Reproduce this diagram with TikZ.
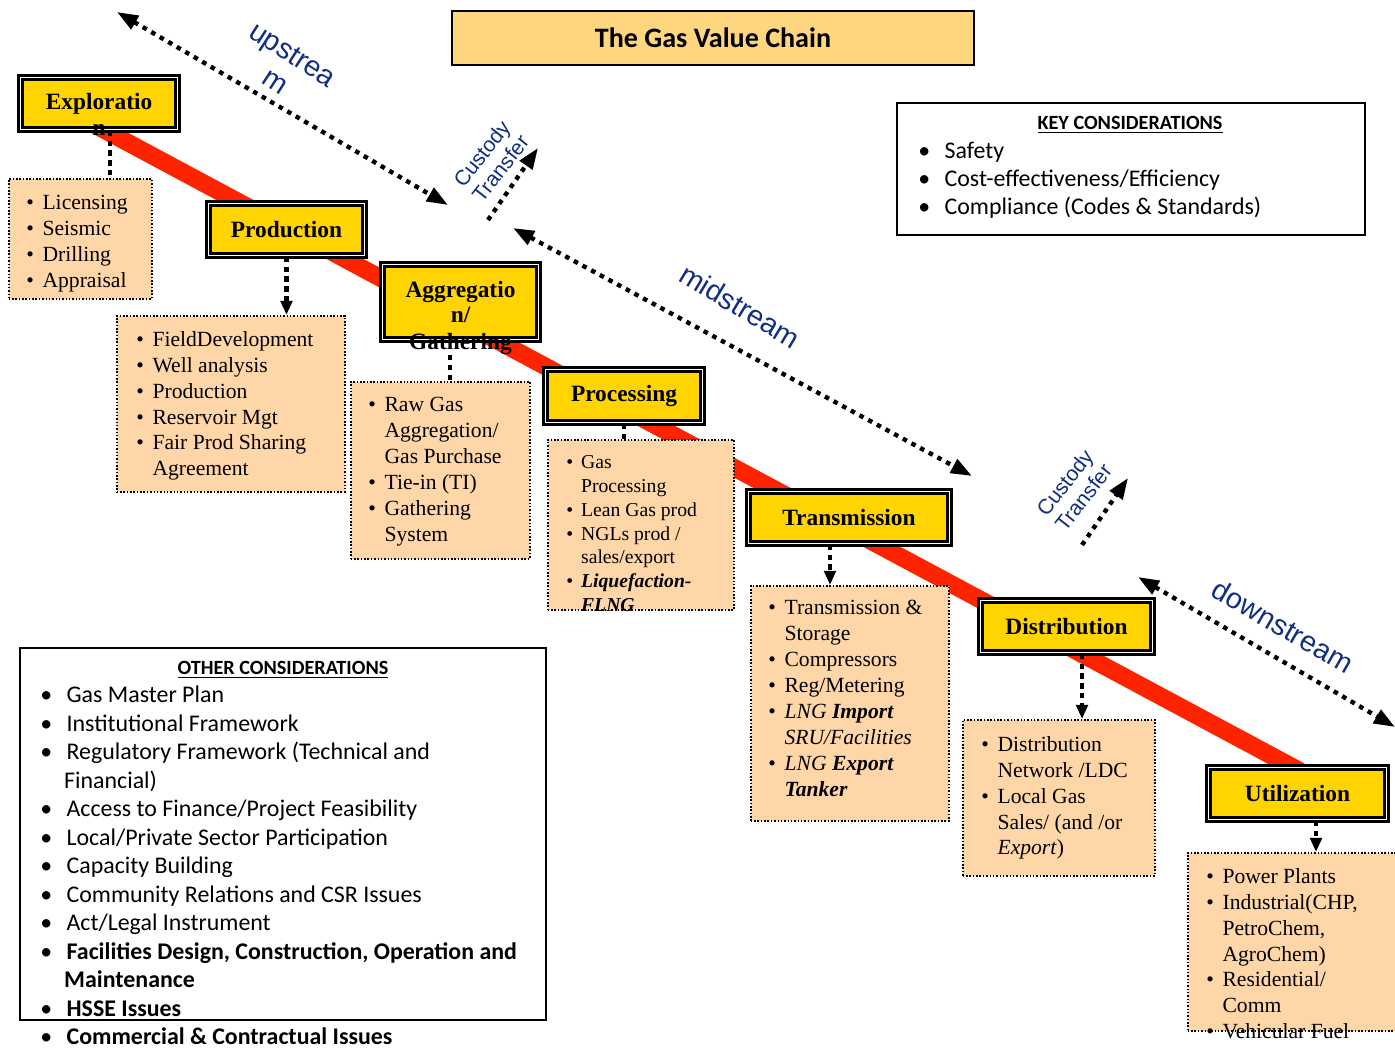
\documentclass[tikz,border=0pt]{standalone}
\usepackage{fontspec}
\setmainfont{Liberation Serif}
\newfontfamily\calibri{Carlito}
\newfontfamily\arial{Liberation Sans}
\usetikzlibrary{arrows.meta,positioning,calc}
\definecolor{stageyellow}{RGB}{255,212,0}
\definecolor{titleorange}{RGB}{255,214,128}
\definecolor{listpeach}{RGB}{255,214,168}
\definecolor{chainred}{RGB}{255,36,0}
\definecolor{streamblue}{RGB}{16,46,130}
\newcommand{\px}{0.02cm}
\newcommand{\bul}{\makebox[0.75em][l]{\textbullet}}
\newcommand{\ind}{\hspace*{0.75em}}
\newcommand{\cbul}{\makebox[1.1em][l]{\textbullet}}
\newcommand{\cind}{\hspace*{1.0em}}
\tikzset{
  stagebox/.style={draw=black,line width=1.4pt,double=white,double distance=0.9pt,
    fill=stageyellow,inner sep=0pt,align=center,
    font=\fontsize{13.3}{14.3}\selectfont\bfseries},
  spill/.style={inner sep=0pt,font=\fontsize{13.3}{14.3}\selectfont\bfseries},
  titlebox/.style={draw=black,line width=0.8pt,fill=titleorange,inner sep=0pt,
    font=\calibri\fontsize{16}{18}\selectfont\bfseries},
  listbox/.style={draw=black,densely dotted,line width=0.9pt,fill=listpeach,
    inner sep=0pt,anchor=north west},
  listtext/.style={anchor=north west,inner sep=0pt,align=left,
    font=\fontsize{12.3}{14.74}\selectfont},
  considerbox/.style={draw=black,line width=1.1pt,fill=white,inner sep=0pt,
    anchor=north west},
  considerhead/.style={inner sep=0pt,font=\calibri\fontsize{11.5}{13}\selectfont\bfseries},
  considertext/.style={anchor=north west,inner sep=0pt,align=left,
    font=\calibri\fontsize{13.6}{16.2}\selectfont},
  chain/.style={line width=10pt,draw=chainred},
  link/.style={line width=2.7pt,dash pattern=on 3pt off 2.6pt},
  linkarrow/.style={link,-{Triangle[length=8pt,width=6.5pt]}},
  stream/.style={line width=2.5pt,dash pattern=on 2.6pt off 3pt,
    {Triangle[length=12pt,width=8.5pt]}-{Triangle[length=12pt,width=8.5pt]}},
  custody/.style={line width=2.5pt,dash pattern=on 2.6pt off 3pt,
    -{Triangle[length=12pt,width=8.5pt]}},
  streamlab/.style={text=streamblue,align=center,inner sep=0pt,
    font=\arial\fontsize{16.4}{18.5}\selectfont},
  custodylab/.style={text=streamblue,align=center,inner sep=0pt,rotate=52,
    font=\arial\fontsize{12}{13.5}\selectfont}
}

\begin{document}
\begin{tikzpicture}[x=0.02cm,y=-0.02cm]
  \fill[white] (0,0) rectangle (1395,1050);
  \useasboundingbox (0,0) rectangle (1395,1050);

  % the chain runs behind every stage
  \coordinate (chainStart) at (95,125);
  \coordinate (chainEnd) at (1300,771);
  \draw[chain] (chainStart) -- (chainEnd);

  \node[titlebox,minimum width=522*\px,minimum height=54*\px] (title)
      at (713,38) {The Gas Value Chain};

  % stages
  \node[stagebox,minimum width=157*\px,minimum height=52*\px] (expl)
      at (99,103.5) {Exploratio};
  \node[stagebox,minimum width=156*\px,minimum height=52*\px] (prod)
      at (286.5,229.5) {Production};
  \node[stagebox,minimum width=156*\px,minimum height=75*\px] (aggr)
      at (460.5,302) {Aggregatio\\n/};
  \node[stagebox,minimum width=157*\px,minimum height=53*\px] (proc)
      at (624,396) {Processing};
  \node[stagebox,minimum width=201*\px,minimum height=52*\px] (trans)
      at (849,517.5) {Transmission};
  \node[stagebox,minimum width=172*\px,minimum height=52*\px] (dist)
      at (1066.5,626.5) {Distribution};
  \node[stagebox,minimum width=178*\px,minimum height=52*\px] (util)
      at (1297.5,793.5) {Utilization};
  \node[spill] (explRest) at (99,130) {n};
  \node[spill] (aggrRest) at (460.5,344) {Gathering};

  % activity lists
  \node[listbox,minimum width=143*\px,minimum height=120*\px] (explList) at (8,178) {};
  \node[listtext] (explItems) at (26,195) {\bul Licensing\\\bul Seismic\\
    \bul Drilling\\\bul Appraisal};

  \node[listbox,minimum width=228*\px,minimum height=176*\px] (prodList) at (116,315) {};
  \node[listtext] (prodItems) at (136,331) {\bul FieldDevelopment\\
    \bul Well analysis\\\bul Production\\\bul Reservoir Mgt\\
    \bul Fair Prod Sharing\\\ind Agreement};

  \node[listbox,minimum width=179*\px,minimum height=177*\px] (aggrList) at (350,381) {};
  \node[listtext] (aggrItems) at (368,397) {\bul Raw Gas\\\ind Aggregation/\\
    \ind Gas Purchase\\\bul Tie-in (TI)\\\bul Gathering\\\ind System};

  \node[listbox,minimum width=186*\px,minimum height=170*\px] (procList) at (547,439) {};
  \node[listtext,font=\fontsize{11.2}{13.6}\selectfont] (procItems) at (566,455) {
    \bul Gas\\\ind Processing\\\bul Lean Gas prod\\\bul NGLs prod /\\
    \ind sales/export\\\bul \textbf{\textit{Liquefaction-}}\\\ind \textbf{\textit{FLNG}}};

  \node[listbox,minimum width=198*\px,minimum height=235*\px] (transList) at (750,585) {};
  \node[listtext] (transItems) at (768,600) {\bul Transmission \&\\\ind Storage\\
    \bul Compressors\\\bul Reg/Metering\\
    \bul \textit{LNG \textbf{Import}}\\\ind \textit{SRU/Facilities}\\
    \bul \textit{LNG \textbf{Export}}\\\ind \textbf{\textit{Tanker}}};

  \node[listbox,minimum width=192*\px,minimum height=156*\px] (distList) at (962,719) {};
  \node[listtext] (distItems) at (981,736) {\bul Distribution\\\ind Network /LDC\\
    \bul Local Gas\\\ind Sales/ (and /or\\\ind \textit{Export})};

  \node[listbox,minimum width=212*\px,minimum height=178*\px] (utilList) at (1187,852) {};
  \node[listtext] (utilItems) at (1206,868) {\bul Power Plants\\
    \bul Industrial(CHP,\\\ind PetroChem,\\\ind AgroChem)\\
    \bul Residential/\\\ind Comm\\\bul Vehicular Fuel};

  % stage to list links
  \coordinate (explCol) at (110,0);
  \coordinate (aggrCol) at (450,0);
  \coordinate (transCol) at (830,0);
  \coordinate (distCol) at (1082,0);
  \coordinate (utilCol) at (1316,0);
  \draw[link] (expl.south -| explCol) -- (explList.north -| explCol);
  \draw[linkarrow] (prod.south) -- (prod.south |- prodList.north);
  \draw[link] (aggrRest.south -| aggrCol) -- (aggrList.north -| aggrCol);
  \draw[link] (proc.south) -- (proc.south |- procList.north);
  \draw[linkarrow] (trans.south -| transCol) -- (transList.north -| transCol);
  \draw[linkarrow] (dist.south -| distCol) -- (distList.north -| distCol);
  \draw[linkarrow] (util.south -| utilCol) -- (utilList.north -| utilCol);

  % segments of the chain
  \coordinate (upA) at (117,12);
  \coordinate (upB) at (448,205);
  \coordinate (midA) at (513,228);
  \coordinate (midB) at (972,476);
  \coordinate (downA) at (1138,577);
  \coordinate (downB) at (1395,727);
  \draw[stream] (upA) -- (upB);
  \draw[stream] (midA) -- (midB);
  \draw[stream] (downA) -- (downB);
  \node[streamlab,rotate=-33] (upLab) at (284,68) {upstrea\\m};
  \node[streamlab,rotate=-31] (midLab) at (740,306) {midstream};
  \node[streamlab,rotate=-30] (downLab) at (1283,626) {downstream};

  \coordinate (custAfoot) at (488,220);
  \coordinate (custAtip) at (538,148);
  \coordinate (custBfoot) at (1082,545);
  \coordinate (custBtip) at (1128,478);
  \draw[custody] (custAfoot) -- (custAtip);
  \draw[custody] (custBfoot) -- (custBtip);
  \node[custodylab] (custALab) at (491,161) {Custody\\Transfer};
  \node[custodylab] (custBLab) at (1074,490) {Custody\\Transfer};

  % considerations
  \node[considerbox,minimum width=468*\px,minimum height=132*\px] (keyBox) at (896,102) {};
  \node[considerhead] (keyHead) at (1130,125) {\underline{KEY CONSIDERATIONS}};
  \node[considertext,font=\calibri\fontsize{13.6}{16}\selectfont] (keyItems)
      at (918,142) {\cbul Safety\\\cbul Cost-effectiveness/Efficiency\\
    \cbul Compliance (Codes \& Standards)};

  \node[considerbox,minimum width=526*\px,minimum height=372*\px] (otherBox) at (19,647) {};
  \node[considerhead] (otherHead) at (283,670) {\underline{OTHER CONSIDERATIONS}};
  \node[considertext] (otherItems) at (40,686) {\cbul Gas Master Plan\\
    \cbul Institutional Framework\\
    \cbul Regulatory Framework (Technical and\\\cind Financial)\\
    \cbul Access to Finance/Project Feasibility\\
    \cbul Local/Private Sector Participation\\
    \cbul Capacity Building\\
    \cbul Community Relations and CSR Issues\\
    \cbul Act/Legal Instrument\\
    \cbul \textbf{Facilities Design, Construction, Operation and}\\
    \cind \textbf{Maintenance}\\
    \cbul \textbf{HSSE Issues}\\
    \cbul \textbf{Commercial \& Contractual Issues}};
\end{tikzpicture}
\end{document}
